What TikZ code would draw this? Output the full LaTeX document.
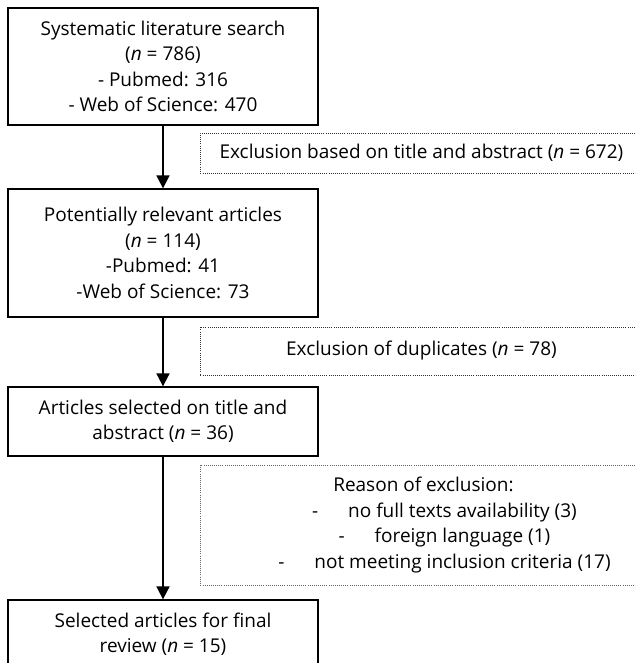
\documentclass[tikz,border=0pt]{standalone}
\usepackage{fontspec}
\setmainfont{Open Sans}
\usetikzlibrary{positioning,arrows.meta}

\begin{document}
\begin{tikzpicture}[x=1pt,y=-1pt,
  font=\fontsize{19}{25.5}\selectfont,
  mainbox/.style={draw=black,line width=1.3pt,minimum width=310pt,align=center,inner sep=0pt,text=black},
  exclbox/.style={draw=black!80,line width=0.9pt,dash pattern=on 0.9pt off 1.2pt,anchor=west,align=center,inner sep=0pt,text=black},
  flow/.style={-{Triangle[width=13pt,length=13pt]},line width=1.8pt}]
\useasboundingbox (0,0) rectangle (635,663);
\clip (0,0) rectangle (635,663);
% main boxes
\node[mainbox,minimum height=117pt] (search) at (163,66.5) {Systematic literature search\\(\textit{n} = 786)\\- Pubmed: 316\\- Web of Science: 470};
\node[mainbox,minimum height=128pt] (relevant) at (163,253) {Potentially relevant articles\\(\textit{n} = 114)\\-Pubmed: 41\\-Web of Science: 73};
\node[mainbox,minimum height=69pt] (selected) at (163,421.5) {Articles selected on title and\\abstract (\textit{n} = 36)};
\node[mainbox,minimum height=68pt] (final) at (163,634) {Selected articles for final\\review (\textit{n} = 15)};
% exclusion boxes
\node[exclbox,minimum width=442pt,minimum height=40pt] (excltitle) at (200,153) {Exclusion based on title and abstract (\textit{n} = 672)};
\node[exclbox,minimum width=442pt,minimum height=48pt] (excldup) at (200,351) {Exclusion of duplicates (\textit{n} = 78)};
\node[exclbox,minimum width=488pt,minimum height=120pt,draw=black!60] (exclreason) at (200,525) {Reason of exclusion:\hspace*{42pt}\\
-\hspace{30pt}no full texts availability (3)\\
-\hspace{30pt}foreign language (1)\\
-\hspace{30pt}not meeting inclusion criteria (17)};
% arrows
\draw[flow] (search) -- (relevant);
\draw[flow] (relevant) -- (selected);
\draw[flow] (selected) -- (final);
\end{tikzpicture}
\end{document}
